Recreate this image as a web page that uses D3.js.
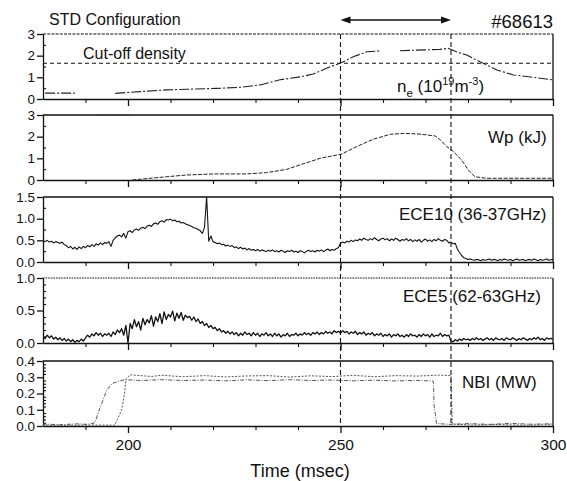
<!DOCTYPE html>
<html>
<head>
<meta charset="utf-8">
<script src="https://cdn.jsdelivr.net/npm/d3@7"></script>
<style>
html, body { margin: 0; padding: 0; background: #fff; }
svg { display: block; font-family: "Liberation Sans", Arial, Helvetica, sans-serif; }
</style>
</head>
<body>
<svg id="chart" width="567" height="481"></svg>
<script>
// ---- time axis ----
const timeDomain = [180, 300];
const timeMajorTicks = [200, 250, 300];
const timeMinorTicks = [190, 210, 220, 230, 240, 260, 270, 280, 290];
const markerTimes = [250, 276];          // vertical guide lines / arrow span (msec)

// ---- panel value axes ----
const yDomains = [[0, 3], [0, 3], [0, 1.5], [0, 1], [0, 0.4]];
const yTickValues = [[0, 1, 2, 3], [0, 1, 2, 3], [0, 0.5, 1, 1.5], [0, 0.5, 1], [0, 0.1, 0.2, 0.3, 0.4]];
const yMinorTicks = [
  [0.5, 1.5, 2.5],
  [0.5, 1.5, 2.5],
  [0.25, 0.75, 1.25],
  [0.1, 0.2, 0.3, 0.4, 0.6, 0.7, 0.8, 0.9],
  [0.02, 0.04, 0.06, 0.08, 0.12, 0.14, 0.16, 0.18, 0.22, 0.24, 0.26, 0.28, 0.32, 0.34, 0.36, 0.38]
];
const yTickFormats = ["d", "d", ".1f", ".1f", ".1f"];

// ---- line-averaged density n_e (10^19 m^-3), null = no data ----
const neDensity = [
  [180.5, 0.27], [187.5, 0.27], [187.6, null],
  [197, 0.26], [202.8, 0.34], [209.1, 0.42], [213.8, 0.45], [220.9, 0.49], [226.4, 0.54],
  [231.1, 0.65], [235.8, 0.89], [240.5, 1.02], [243.6, 1.15], [246.7, 1.42], [250.3, 1.68],
  [253, 1.95], [256.2, 2.18], [259.3, 2.22], [259.4, null],
  [264, 2.23], [273.4, 2.29], [275.3, 2.34], [277.3, 2.18], [278.5, 2.1], [279.7, 2.03],
  [282.8, 1.72], [286.8, 1.34], [290.7, 1.11], [295.4, 1.0], [300, 0.88]
];
const cutoffDensity = 1.65;

// ---- stored energy Wp (kJ) ----
const wpSaturated = [[192.7, 3], [201.2, 3]];
const wpEnergy = [
  [201, 0.0], [203.6, 0.05], [209.1, 0.15], [213.8, 0.23], [220.1, 0.28], [227.9, 0.28],
  [232.6, 0.34], [237.3, 0.49], [240.5, 0.7], [245.2, 1.0], [250.3, 1.2], [253.8, 1.54],
  [257.7, 1.88], [261.7, 2.11], [264.8, 2.15], [268.7, 2.12], [272.3, 2.03], [273.5, 1.85],
  [275, 1.54], [276.6, 1.31], [278.5, 0.92], [280.1, 0.46], [281.6, 0.15], [284.4, 0.08], [300, 0.08]
];

// ---- ECE channels, sampled every 0.5 msec from 180 msec ----
const eceStart = 180, eceStep = 0.5;
const ece10 = [
  0.49,0.47,0.50,0.46,0.48,0.44,0.47,0.45,0.43,0.46,
  0.40,0.38,0.33,0.36,0.30,0.34,0.29,0.35,0.31,0.36,
  0.33,0.38,0.35,0.40,0.36,0.42,0.39,0.44,0.40,0.45,
  0.43,0.47,0.36,0.50,0.56,0.60,0.62,0.58,0.66,0.55,
  0.70,0.72,0.68,0.74,0.76,0.73,0.78,0.80,0.77,0.83,
  0.85,0.82,0.88,0.90,0.87,0.93,0.95,0.92,0.98,0.97,
  0.99,0.95,0.97,0.93,0.94,0.90,0.91,0.88,0.86,0.84,
  0.82,0.79,0.78,0.75,0.72,0.66,0.80,1.50,0.48,0.60,
  0.47,0.45,0.42,0.44,0.40,0.41,0.37,0.39,0.36,0.38,
  0.33,0.35,0.31,0.34,0.30,0.32,0.28,0.31,0.27,0.29,
  0.26,0.29,0.25,0.28,0.26,0.24,0.27,0.25,0.28,0.24,
  0.26,0.23,0.27,0.25,0.22,0.26,0.24,0.27,0.23,0.25,
  0.22,0.26,0.24,0.21,0.25,0.27,0.24,0.26,0.23,0.27,
  0.25,0.28,0.24,0.27,0.30,0.26,0.29,0.27,0.31,0.33,
  0.43,0.46,0.44,0.48,0.46,0.50,0.47,0.51,0.49,0.53,
  0.50,0.55,0.52,0.50,0.54,0.51,0.56,0.52,0.49,0.53,
  0.55,0.51,0.54,0.49,0.53,0.50,0.55,0.52,0.48,0.52,
  0.50,0.54,0.49,0.52,0.47,0.51,0.48,0.52,0.46,0.50,
  0.53,0.48,0.51,0.47,0.52,0.49,0.54,0.50,0.48,0.52,
  0.50,0.44,0.46,0.42,0.43,0.30,0.22,0.15,0.10,0.08,
  0.06,0.07,0.05,0.04,0.06,0.05,0.03,0.06,0.04,0.05,
  0.07,0.04,0.06,0.05,0.03,0.06,0.04,0.07,0.05,0.04,
  0.06,0.03,0.05,0.07,0.04,0.05,0.06,0.03,0.05,0.06,
  0.04,0.07,0.05,0.03,0.06,0.04,0.05,0.07,0.04,0.05,
  0.06
];
const ece5 = [
  0.10,0.07,0.12,0.08,0.11,0.06,0.09,0.05,0.08,0.04,
  0.07,0.03,0.06,0.02,0.05,0.01,0.04,0.02,0.06,0.03,
  0.08,0.12,0.09,0.14,0.11,0.16,0.12,0.15,0.10,0.14,
  0.12,0.15,0.10,0.17,0.13,0.20,0.16,0.22,0.12,0.27,
  0.00,0.30,0.22,0.36,0.25,0.33,0.20,0.38,0.28,0.36,
  0.31,0.42,0.26,0.40,0.33,0.45,0.30,0.48,0.36,0.44,
  0.40,0.49,0.34,0.46,0.38,0.47,0.35,0.43,0.39,0.41,
  0.35,0.40,0.33,0.37,0.30,0.33,0.27,0.30,0.24,0.27,
  0.22,0.24,0.19,0.22,0.17,0.19,0.15,0.18,0.14,0.17,
  0.13,0.16,0.11,0.15,0.12,0.17,0.13,0.15,0.11,0.16,
  0.12,0.15,0.10,0.14,0.12,0.16,0.11,0.14,0.10,0.15,
  0.11,0.14,0.09,0.13,0.11,0.15,0.10,0.13,0.12,0.15,
  0.11,0.14,0.12,0.16,0.13,0.15,0.12,0.16,0.14,0.17,
  0.13,0.16,0.14,0.18,0.15,0.17,0.14,0.19,0.16,0.18,
  0.15,0.19,0.16,0.18,0.14,0.17,0.15,0.18,0.13,0.16,
  0.14,0.17,0.12,0.15,0.13,0.16,0.11,0.14,0.12,0.15,
  0.10,0.13,0.11,0.14,0.09,0.13,0.11,0.14,0.10,0.12,
  0.09,0.13,0.10,0.14,0.11,0.12,0.09,0.13,0.10,0.14,
  0.11,0.13,0.09,0.14,0.10,0.12,0.11,0.15,0.10,0.13,
  0.11,0.12,0.03,0.02,0.05,0.03,0.06,0.04,0.07,0.05,
  0.06,0.04,0.07,0.05,0.08,0.05,0.07,0.04,0.06,0.08,
  0.05,0.07,0.04,0.08,0.06,0.05,0.07,0.04,0.08,0.06,
  0.05,0.08,0.06,0.04,0.07,0.05,0.08,0.06,0.04,0.07,
  0.05,0.08,0.06,0.09,0.05,0.07,0.04,0.08,0.06,0.07,
  0.06
];

// ---- neutral beam injection power (MW), two beams ----
const nbiBeamA = [
  [180, 0.012], [184, 0.008], [188, 0.013], [190.5, 0.01], [192.2, 0.02], [193.4, 0.11],
  [195, 0.22], [196.2, 0.26], [197.7, 0.275], [199.3, 0.285], [203, 0.28], [208, 0.285],
  [213, 0.28], [218, 0.283], [223, 0.278], [228, 0.284], [233, 0.279], [238, 0.285],
  [243, 0.28], [248, 0.283], [253, 0.278], [258, 0.282], [263, 0.277], [268, 0.281],
  [271.8, 0.276], [271.9, 0.26], [272, 0.13], [272.6, 0.015], [276, 0.01], [280, 0.015],
  [285, 0.01], [290, 0.016], [295, 0.011], [300, 0.014]
];
const nbiBeamB = [
  [180, 0.005], [186, 0.004], [192, 0.006], [196.9, 0.005], [198.5, 0.1], [199.2, 0.2],
  [199.5, 0.29], [200.5, 0.315], [203, 0.31], [205.5, 0.305], [208, 0.312], [213, 0.303],
  [218, 0.31], [223, 0.302], [228, 0.308], [233, 0.31], [238, 0.301], [243, 0.309],
  [248, 0.304], [253, 0.312], [258, 0.303], [263, 0.31], [268, 0.307], [273, 0.313],
  [276, 0.31], [276.3, 0.012], [281, 0.006], [287, 0.009], [293, 0.005], [300, 0.008]
];

// ---- layout ----
const svg = d3.select("#chart");
const x = d3.scaleLinear().domain(timeDomain).range([43, 553]);
const panelTops = [34, 115, 197, 278, 361];
const panelHeight = 65;
const ys = yDomains.map((dom, i) =>
  d3.scaleLinear().domain(dom).range([panelTops[i] + panelHeight, panelTops[i]]));

const ink = "#111";

// clip each panel to its plotting box
const defs = svg.append("defs");
ys.forEach((y, i) => {
  defs.append("clipPath").attr("id", "clip" + i)
    .append("rect")
    .attr("x", x.range()[0]).attr("y", y.range()[1] - 1)
    .attr("width", x.range()[1] - x.range()[0]).attr("height", y.range()[0] - y.range()[1] + 2);
});

// frames and axes
ys.forEach((y, i) => {
  const g = svg.append("g");
  const x0 = x.range()[0], x1 = x.range()[1];
  const yb = y.range()[0], yt = y.range()[1];

  // minor value ticks, pointing into the box
  g.append("g").attr("transform", `translate(${x0},0)`)
    .call(d3.axisRight(y).tickValues(yMinorTicks[i]).tickSize(3).tickSizeOuter(0).tickFormat(""))
    .call(a => a.select(".domain").remove())
    .selectAll("line").attr("stroke", ink).attr("stroke-width", 1.1);

  // major value ticks with labels
  const ya = g.append("g").attr("transform", `translate(${x0},0)`)
    .call(d3.axisLeft(y).tickValues(yTickValues[i]).tickSize(6).tickSizeOuter(0)
      .tickPadding(2).tickFormat(d3.format(yTickFormats[i])));
  ya.select(".domain").attr("stroke", ink).attr("stroke-width", 1.3);
  ya.selectAll("line").attr("stroke", ink).attr("stroke-width", 1.3);
  ya.selectAll("text").attr("font-size", 13.5).attr("fill", ink)
    .attr("font-family", "Liberation Sans, Arial, sans-serif");

  // time ticks along the bottom of every panel
  g.append("g").attr("transform", `translate(0,${yb})`)
    .call(d3.axisBottom(x).tickValues(timeMinorTicks).tickSize(4).tickSizeOuter(0).tickFormat(""))
    .call(a => a.select(".domain").remove())
    .selectAll("line").attr("stroke", ink).attr("stroke-width", 1.1);
  const xa = g.append("g").attr("transform", `translate(0,${yb})`)
    .call(d3.axisBottom(x).tickValues(timeMajorTicks).tickSize(7).tickSizeOuter(0)
      .tickPadding(6).tickFormat(i === ys.length - 1 ? d3.format("d") : ""));
  xa.select(".domain").attr("stroke", ink).attr("stroke-width", 1.3);
  xa.selectAll("line").attr("stroke", ink).attr("stroke-width", 1.3);
  xa.selectAll("text").attr("font-size", 15.5).attr("fill", ink)
    .attr("font-family", "Liberation Sans, Arial, sans-serif");

  // right edge
  g.append("line").attr("x1", x1).attr("x2", x1).attr("y1", yt).attr("y2", yb)
    .attr("stroke", ink).attr("stroke-width", 1.3);
  // top edge (broken rendering on the density and ECE5 boxes)
  const top = g.append("line").attr("x1", x0).attr("x2", x1).attr("y1", yt).attr("y2", yt)
    .attr("stroke", ink).attr("stroke-width", 1.3);
  if (i === 0) top.attr("stroke-dasharray", "3,1.2").attr("stroke-width", 1.1);
  if (i === 3) top.attr("stroke-dasharray", "1.6,1").attr("stroke-width", 1.1);
});

// line helper
function drawLine(i, data, style) {
  const y = ys[i];
  const gen = d3.line().defined(d => d[1] != null).x(d => x(d[0])).y(d => y(d[1]));
  return svg.append("path")
    .attr("clip-path", `url(#clip${i})`)
    .datum(data)
    .attr("d", gen)
    .attr("fill", "none")
    .attr("stroke", style.stroke || ink)
    .attr("stroke-width", style.width || 1)
    .attr("stroke-dasharray", style.dash || null)
    .attr("stroke-linejoin", "round");
}

// panel 1: density and cut-off
svg.append("line")
  .attr("x1", x(timeDomain[0])).attr("x2", x(timeDomain[1]))
  .attr("y1", ys[0](cutoffDensity)).attr("y2", ys[0](cutoffDensity))
  .attr("stroke", ink).attr("stroke-width", 1.2).attr("stroke-dasharray", "4,3");
drawLine(0, neDensity, { dash: "10,2,2,2", width: 1.1, stroke: "#222" });

// panel 2: stored energy
drawLine(1, wpSaturated, { dash: "1.5,1.5", width: 1.2, stroke: "#333" });
drawLine(1, wpEnergy, { dash: "4,1.5", width: 1, stroke: "#222" });

// panels 3 and 4: ECE
const toSeries = arr => arr.map((v, k) => [eceStart + k * eceStep, v]);
drawLine(2, toSeries(ece10), { width: 1.1, stroke: "#111" });
drawLine(3, toSeries(ece5), { width: 1.3, stroke: "#111" });

// panel 5: NBI
drawLine(4, nbiBeamA, { dash: "4,1.5,1,1.5", width: 1, stroke: "#555" });
drawLine(4, nbiBeamB, { dash: "2,1.5", width: 1, stroke: "#555" });

// vertical guide lines across all panels
markerTimes.forEach(t => {
  svg.append("line")
    .attr("x1", x(t)).attr("x2", x(t))
    .attr("y1", ys[0].range()[1]).attr("y2", ys[4].range()[0])
    .attr("stroke", ink).attr("stroke-width", 1.1).attr("stroke-dasharray", "5,3");
});

// double-headed arrow above the first panel
const arrowY = 20;
const ax0 = x(markerTimes[0]), ax1 = x(markerTimes[1]);
svg.append("line").attr("x1", ax0 + 6).attr("x2", ax1 - 6)
  .attr("y1", arrowY).attr("y2", arrowY).attr("stroke", ink).attr("stroke-width", 1.6);
svg.append("path")
  .attr("d", `M${ax0},${arrowY} L${ax0 + 10},${arrowY - 3.5} L${ax0 + 10},${arrowY + 3.5} Z`)
  .attr("fill", ink);
svg.append("path")
  .attr("d", `M${ax1},${arrowY} L${ax1 - 10},${arrowY - 3.5} L${ax1 - 10},${arrowY + 3.5} Z`)
  .attr("fill", ink);

// text
const txt = (xp, yp, s, size, anchor) => svg.append("text")
  .attr("x", xp).attr("y", yp).attr("font-size", size).attr("fill", ink)
  .attr("text-anchor", anchor || "start").text(s);

txt(49, 25, "STD Configuration", 16);
txt(553, 28, "#68613", 18.5, "end");
txt(83, 59, "Cut-off density", 16);

const ne = svg.append("text").attr("x", 397).attr("y", 92).attr("font-size", 17).attr("fill", ink);
ne.append("tspan").text("n");
ne.append("tspan").attr("dy", 5).attr("font-size", 11.5).text("e");
ne.append("tspan").attr("dy", -5).text(" (10");
ne.append("tspan").attr("dy", -7).attr("font-size", 11).text("19");
ne.append("tspan").attr("dy", 7).text("m");
ne.append("tspan").attr("dy", -7).attr("font-size", 11).text("-3");
ne.append("tspan").attr("dy", 7).text(")");

txt(488, 143, "Wp (kJ)", 17);
txt(399, 220, "ECE10 (36-37GHz)", 17);
txt(403, 302, "ECE5 (62-63GHz)", 17);
txt(462, 388, "NBI (MW)", 17);
txt(300, 477, "Time (msec)", 18, "middle");
</script>
</body>
</html>
